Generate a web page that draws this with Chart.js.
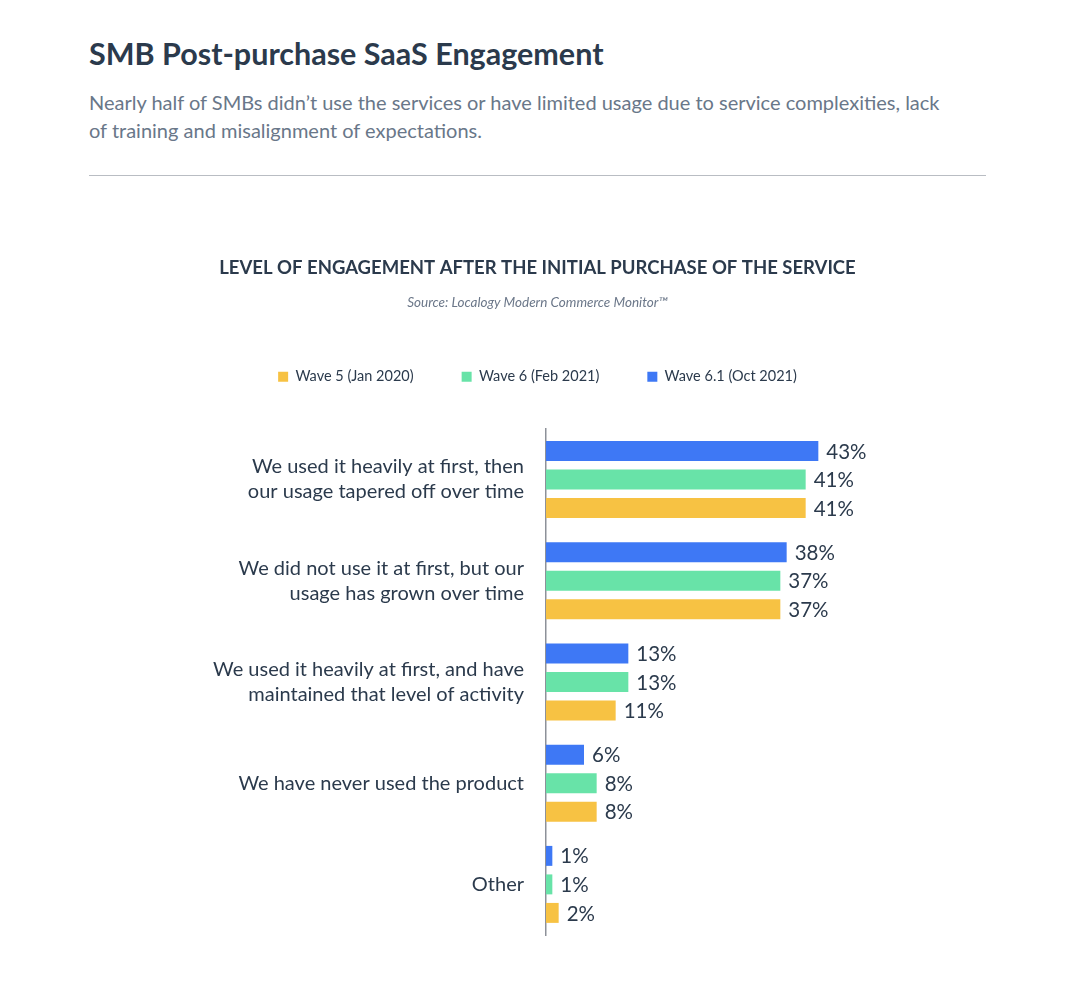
<!DOCTYPE html>
<html><head><meta charset="utf-8">
<script src="https://cdn.jsdelivr.net/npm/chart.js@4"></script>
<style>
body{margin:0;background:#fff;font-family:Lato,'Noto Sans',sans-serif;}
#t{position:absolute;left:89px;top:34px;font-size:30.5px;line-height:38px;font-weight:700;color:#2b3a4c;white-space:nowrap;}
#s{position:absolute;left:89px;top:88px;font-size:20px;line-height:28px;color:#697789;white-space:nowrap;}
#hr{position:absolute;left:89px;top:175px;width:897px;height:1px;background:#b9bdc3;}
#wrap{position:absolute;left:89px;top:190px;width:897px;height:792px;}
</style></head><body>
<div id="t">SMB Post-purchase SaaS Engagement</div>
<div id="s">Nearly half of SMBs didn’t use the services or have limited usage due to service complexities, lack<br>of training and misalignment of expectations.</div>
<div id="hr"></div>
<div id="wrap"><canvas id="c"></canvas></div>
<script>
const categories = [
  ["We used it heavily at first, then", "our usage tapered off over time"],
  ["We did not use it at first, but our", "usage has grown over time"],
  ["We used it heavily at first, and have", "maintained that level of activity"],
  "We have never used the product",
  "Other"
];
const wave61 = [43, 38, 13, 6, 1];
const wave6 = [41, 37, 13, 8, 1];
const wave5 = [41, 37, 11, 8, 2];
const seriesNames = ["Wave 6.1 (Oct 2021)", "Wave 6 (Feb 2021)", "Wave 5 (Jan 2020)"];
const seriesColors = ["#3e78f5", "#68e3a8", "#f7c243"];
const chartTitle = "LEVEL OF ENGAGEMENT AFTER THE INITIAL PURCHASE OF THE SERVICE";
const chartSource = "Source: Localogy Modern Commerce Monitor™";

const FONT = "Lato, 'Noto Sans', sans-serif";
const TEXT = "#2b3a4c";

const valueLabels = {
  id: "valueLabels",
  afterDatasetsDraw(chart) {
    const ctx = chart.ctx;
    ctx.save();
    ctx.font = "20.5px " + FONT;
    ctx.fillStyle = TEXT;
    ctx.textBaseline = "middle";
    ctx.textAlign = "left";
    chart.data.datasets.forEach((ds, i) => {
      const meta = chart.getDatasetMeta(i);
      meta.data.forEach((el, j) => {
        ctx.fillText(ds.data[j] + "%", el.x + 8, el.y + 1);
      });
    });
    ctx.restore();
  }
};

const legendSpacer = {
  id: "legendSpacer",
  beforeLayout(chart) {
    const lg = chart.legend;
    if (lg && !lg._spaced) {
      const fit = lg.fit;
      lg.fit = function () { fit.call(this); this.height += 35; };
      lg._spaced = true;
    }
  }
};

const datasets = [wave61, wave6, wave5].map((d, i) => ({
  label: seriesNames[i],
  data: d,
  backgroundColor: seriesColors[i],
  borderWidth: 0,
  categoryPercentage: 0.845,
  barPercentage: 0.7
}));

new Chart(document.getElementById("c"), {
  type: "bar",
  data: { labels: categories, datasets },
  plugins: [valueLabels, legendSpacer],
  options: {
    indexAxis: "y",
    responsive: true,
    maintainAspectRatio: false,
    animation: false,
    layout: { padding: { left: 60, right: 60, bottom: 0 } },
    plugins: {
      title: {
        display: true, text: chartTitle, color: TEXT,
        font: { family: FONT, size: 18.5, weight: "bold" },
        padding: { top: 67, bottom: 10 }
      },
      subtitle: {
        display: true, text: chartSource, color: "#6b7789",
        font: { family: FONT, size: 13.5, style: "italic" },
        padding: { top: 5, bottom: 11 }
      },
      legend: {
        display: true,
        labels: {
          boxWidth: 10, boxHeight: 10, padding: 48, color: TEXT,
          font: { family: FONT, size: 14.5 },
          sort: (a, b) => b.datasetIndex - a.datasetIndex
        }
      },
      tooltip: { enabled: false }
    },
    scales: {
      x: { display: false, min: 0, max: 60 },
      y: {
        afterFit(scale) { scale.width = 397; },
        grid: { display: false, drawTicks: false },
        border: { display: true, color: "#8d9199", width: 1.5 },
        ticks: {
          padding: 22, color: TEXT,
          font: { family: FONT, size: 20, lineHeight: 1.25 }
        }
      }
    }
  }
});
</script>
</body></html>
